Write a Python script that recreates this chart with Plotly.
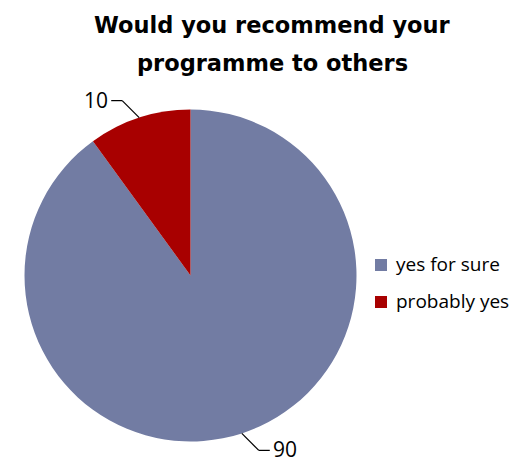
import math
import plotly.graph_objects as go

W, H = 527, 465

labels = ["yes for sure", "probably yes"]
values = [90, 10]
colors = ["#727ca3", "#a80000"]
title_lines = ["Would you recommend your", "programme to others"]

FONT = "'Open Sans', sans-serif"
TITLE_FONT = "'DejaVu Sans', sans-serif"

# pie placement in pixels
cx, cy, r = 190.5, 275.5, 166.0

fig = go.Figure(go.Pie(
    labels=labels,
    values=values,
    sort=False,
    direction="clockwise",
    rotation=0,
    marker=dict(colors=colors, line=dict(width=0)),
    textinfo="none",
    hoverinfo="label+value",
    showlegend=False,
    domain=dict(x=[(cx - r) / W, (cx + r) / W],
                y=[1 - (cy + r) / H, 1 - (cy - r) / H]),
))

def px(x):
    return x / W

def py(y):
    return 1 - y / H

shapes = []
annotations = []

# outside value labels with elbow leader lines
total = sum(values)
start = 0.0
for v in values:
    mid = (start + v / 2) / total * 2 * math.pi
    start += v
    ex = cx + r * math.sin(mid)
    ey = cy - r * math.cos(mid)
    sx = 1 if math.sin(mid) >= 0 else -1
    sy = 1 if -math.cos(mid) >= 0 else -1
    # leader goes out from the edge, then runs horizontally
    bx = ex + sx * 17
    by = ey + sy * 17
    hx = bx + sx * 11
    for (x0, y0, x1, y1) in [(ex, ey, bx, by), (bx, by, hx, by)]:
        shapes.append(dict(type="line", xref="paper", yref="paper",
                           x0=px(x0), y0=py(y0), x1=px(x1), y1=py(y1),
                           line=dict(color="black", width=1.2)))
    annotations.append(dict(
        text=str(v), xref="paper", yref="paper",
        x=px(hx + sx * 1), y=py(by - 1),
        xanchor="left" if sx > 0 else "right", yanchor="middle",
        showarrow=False, font=dict(family=FONT, size=21, color="black"),
    ))

# legend: colour squares with slice names
leg_x, leg_y0, leg_dy, sq = 375, 264, 37, 12
for i, (lab, col) in enumerate(zip(labels, colors)):
    yc = leg_y0 + i * leg_dy
    shapes.append(dict(type="rect", xref="paper", yref="paper",
                       x0=px(leg_x), x1=px(leg_x + sq),
                       y0=py(yc - sq / 2 + 1), y1=py(yc + sq / 2 + 1),
                       fillcolor=col, line=dict(width=0)))
    annotations.append(dict(
        text=lab, xref="paper", yref="paper",
        x=px(leg_x + sq + 7), y=py(yc), xanchor="left", yanchor="middle",
        showarrow=False, font=dict(family=FONT, size=19, color="black"),
    ))

# two-line title
for i, line in enumerate(title_lines):
    annotations.append(dict(
        text="<b>%s</b>" % line, xref="paper", yref="paper",
        x=px(272), y=py(25 + i * 38), xanchor="center", yanchor="middle",
        showarrow=False, font=dict(family=TITLE_FONT, size=22.5, color="black"),
    ))

fig.update_layout(
    width=W, height=H,
    margin=dict(l=0, r=0, t=0, b=0),
    paper_bgcolor="white",
    plot_bgcolor="white",
    showlegend=False,
    shapes=shapes,
    annotations=annotations,
)

fig.write_html("out.html")
